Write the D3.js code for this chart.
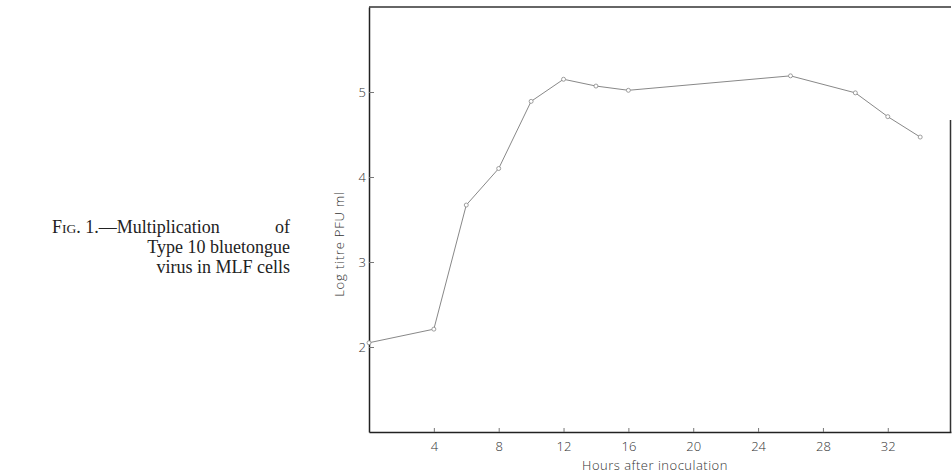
<!DOCTYPE html>
<html>
<head>
<meta charset="utf-8">
<script src="https://cdn.jsdelivr.net/npm/d3@7"></script>
<style>
body { margin: 0; background: #fff; }
.tick text { font-family: "Open Sans", "DejaVu Sans", sans-serif; font-weight: 300; fill: #333; }
.caption { font-family: "Liberation Serif", serif; font-size: 18px; fill: #222; }
</style>
</head>
<body>
<div class="chart"></div>
<script>
// Data ---------------------------------------------------------------------
const hours = [0, 4, 6, 8, 10, 12, 14, 16, 26, 30, 32, 34];
const logTitre = [2.05, 2.21, 3.67, 4.1, 4.89, 5.15, 5.07, 5.02, 5.19, 4.99, 4.71, 4.47];
const xTicks = [4, 8, 12, 16, 20, 24, 28, 32];
const yTicks = [2, 3, 4, 5];

// SVG Dimensions ---------------------------------------------------------------------
const width = 952;
const height = 475;
const margin = { top: 7, right: 1, bottom: 43, left: 369 };

const svg = d3.select(".chart")
  .append("svg")
  .attr("width", width)
  .attr("height", height);

// Scales ---------------------------------------------------------------------
const xScale = d3.scaleLinear()
  .domain([0, 35.9])
  .range([margin.left, width - margin.right]);

const yScale = d3.scaleLinear()
  .domain([1, 6])
  .range([height - margin.bottom, margin.top]);

// Frame ---------------------------------------------------------------------
svg.append("line")
  .attr("x1", margin.left).attr("x2", width - margin.right)
  .attr("y1", margin.top).attr("y2", margin.top)
  .attr("stroke", "#333").attr("stroke-width", 1.5);

svg.append("line")
  .attr("x1", width - margin.right - 0.5).attr("x2", width - margin.right - 0.5)
  .attr("y1", 120).attr("y2", height - margin.bottom)
  .attr("stroke", "#333").attr("stroke-width", 1.5);

// Axes ---------------------------------------------------------------------
const xAxis = d3.axisBottom(xScale)
  .tickValues(xTicks)
  .tickFormat(d3.format("d"))
  .tickSizeInner(-4)
  .tickSizeOuter(0)
  .tickPadding(10);

const gx = svg.append("g")
  .attr("transform", `translate(0, ${height - margin.bottom})`)
  .call(xAxis);
gx.select(".domain").attr("stroke", "#222").attr("stroke-width", 1.5);
gx.selectAll(".tick line").attr("stroke", "#777");
gx.selectAll(".tick text").style("font-size", "13px");

const yAxis = d3.axisLeft(yScale)
  .tickValues(yTicks)
  .tickFormat(d3.format("d"))
  .tickSize(-5)
  .tickSizeOuter(0)
  .tickPadding(3);

const gy = svg.append("g")
  .attr("transform", `translate(${margin.left}, 0)`)
  .call(yAxis);
gy.select(".domain").attr("stroke", "#222").attr("stroke-width", 1.5);
gy.selectAll(".tick line").attr("stroke", "#777");
gy.selectAll(".tick text").style("font-size", "13px");

// Axis titles ---------------------------------------------------------------------
svg.append("text")
  .attr("x", 655)
  .attr("y", 470)
  .attr("text-anchor", "middle")
  .style("font-family", "'Open Sans', 'DejaVu Sans', sans-serif")
  .style("font-weight", 300)
  .style("font-size", "13px")
  .style("letter-spacing", "0.5px")
  .attr("fill", "#333")
  .text("Hours after inoculation");

svg.append("text")
  .attr("transform", `translate(344, 244) rotate(-90)`)
  .attr("text-anchor", "middle")
  .style("font-family", "'Open Sans', 'DejaVu Sans', sans-serif")
  .style("font-weight", 300)
  .style("font-size", "13px")
  .style("letter-spacing", "0.8px")
  .attr("fill", "#333")
  .text("Log titre PFU ml");

// Line and points ---------------------------------------------------------------------
const points = hours.map((h, i) => ({ h, v: logTitre[i] }));

const line = d3.line()
  .x(d => xScale(d.h))
  .y(d => yScale(d.v));

svg.append("path")
  .datum(points)
  .attr("fill", "none")
  .attr("stroke", "#888")
  .attr("stroke-width", 1)
  .attr("d", line);

svg.selectAll(".pt")
  .data(points)
  .join("circle")
  .attr("class", "pt")
  .attr("cx", d => xScale(d.h))
  .attr("cy", d => yScale(d.v))
  .attr("r", 2)
  .attr("fill", "#fff")
  .attr("stroke", "#888")
  .attr("stroke-width", 0.8);

// Caption ---------------------------------------------------------------------
const capRight = 290;
const caption = svg.append("g").attr("class", "caption");
const fig = caption.append("text").attr("x", 52).attr("y", 233);
fig.append("tspan").text("F");
fig.append("tspan").style("font-size", "13.5px").text("IG");
fig.append("tspan").text(". 1.—Multiplication");
caption.append("text").attr("x", capRight).attr("y", 233).attr("text-anchor", "end").text("of");
caption.append("text").attr("x", capRight).attr("y", 253).attr("text-anchor", "end").text("Type 10 bluetongue");
caption.append("text").attr("x", capRight).attr("y", 273).attr("text-anchor", "end").text("virus in MLF cells");
</script>
</body>
</html>
